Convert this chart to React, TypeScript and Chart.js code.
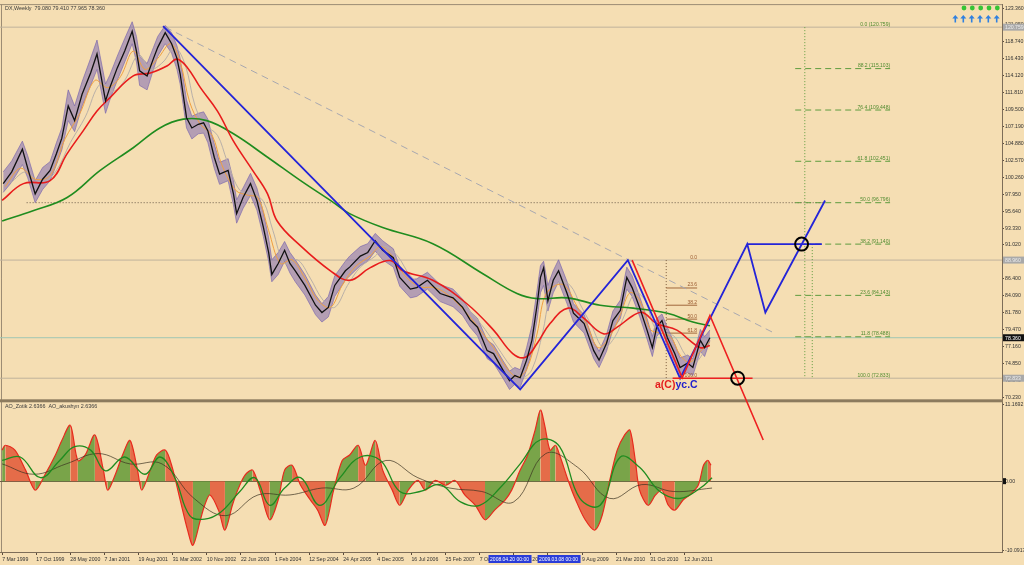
import React, { useEffect, useRef } from 'react';
import { Chart, registerables } from 'chart.js';

Chart.register(...registerables);

const FONT = "'Liberation Sans', 'DejaVu Sans', sans-serif";
const BG = '#f5deb3';

// x values are weeks counted from 7 Mar 1999 (weekly DX chart)
const dateTickWeeks = [0, 32, 64, 96, 128, 160, 192, 224, 256, 288, 320, 352, 384, 416, 448, 480, 512, 544, 576, 608, 640];
const dateTickLabels = ['7 Mar 1999', '17 Oct 1999', '28 May 2000', '7 Jan 2001', '19 Aug 2001', '31 Mar 2002', '10 Nov 2002', '22 Jun 2003', '1 Feb 2004', '12 Sep 2004', '24 Apr 2005', '4 Dec 2005', '16 Jul 2006', '25 Feb 2007', '7 Oct 2007', '18 May 2008', '28 Dec 2008', '9 Aug 2009', '21 Mar 2010', '31 Oct 2010', '12 Jun 2011'];
const markedWeeks = [476, 522];
const markedLabels = ['2008.04.20 00:00', '2009.03.08 00:00'];

const priceTicks = [123.36, 121.05, 118.74, 116.43, 114.12, 111.81, 109.5, 107.19, 104.88, 102.57, 100.26, 97.95, 95.64, 93.33, 91.02, 88.71, 86.4, 84.09, 81.78, 79.47, 77.16, 74.85, 72.54, 70.23];
const aoTicks = [11.1692, 0, -10.0917];
const aoTickLabels = ['11.1692', '0.00', '-10.0917'];

// price bars (sampled)
const closeWeek = [1,9,19,24,31,38,45,51,56,62,68,75,83,89,97,101,108,115,122,126,129,136,142,146,153,159,164,167,173,178,184,189,193,199,204,212,217,220,226,233,239,245,250,253,259,265,270,275,284,294,300,306,312,322,326,336,343,350,357,367,373,383,389,399,411,423,432,439,446,455,461,470,476,481,486,492,497,502,505,508,512,517,522,530,536,546,555,560,567,573,580,586,591,598,605,610,614,619,624,631,636,643,648,655,659,664];
const closeValue = [99.4,101.0,104.1,101.5,98.0,100.0,101.2,103.5,105.6,110.0,108.0,111.6,114.5,117.1,110.7,112.5,115.2,117.5,120.2,117.5,114.8,114.1,116.5,118.0,120.0,118.5,116.5,114.4,108.4,107.0,107.5,107.7,106.6,103.0,100.7,101.2,98.0,95.3,97.5,99.4,97.1,93.5,90.0,87.0,88.5,90.3,88.5,87.5,85.5,82.8,81.8,82.5,85.5,87.5,88.0,89.5,90.0,91.6,90.3,89.3,86.6,85.0,85.2,86.2,84.4,83.8,82.5,80.8,79.8,76.6,76.2,73.9,72.5,73.2,72.9,75.3,78.0,83.0,86.6,87.9,83.4,86.2,87.5,84.4,81.7,80.3,76.6,75.3,77.6,80.7,82.1,86.6,85.2,82.5,79.4,77.0,79.8,80.7,78.4,76.2,74.3,74.9,74.3,78.0,77.0,78.36];
const highValue = [101.0,102.5,105.2,103.2,99.8,101.6,102.4,105.0,107.0,112.2,110.0,113.3,116.5,119.0,113.0,114.2,116.8,119.2,121.5,119.5,116.8,115.8,118.0,119.5,121.0,120.0,118.2,116.5,110.8,108.6,109.0,109.2,108.2,104.8,102.3,102.8,99.8,97.2,98.8,100.8,98.8,95.5,92.0,89.0,90.0,91.5,90.0,89.0,87.0,84.2,83.0,84.0,86.8,88.8,89.5,90.8,91.2,92.6,91.6,90.5,88.0,86.3,86.4,87.3,85.6,85.0,83.6,82.0,81.0,78.0,77.4,75.2,73.8,74.3,74.0,77.0,80.0,85.0,88.2,88.8,85.5,87.5,89.0,86.0,83.0,81.5,77.8,76.5,78.8,82.0,83.5,88.0,86.8,84.0,81.0,78.5,81.0,81.6,79.8,77.5,75.6,76.0,75.5,79.5,78.5,79.41];
const lowValue = [98.2,99.6,102.0,100.2,96.8,98.6,99.8,102.0,104.0,108.0,106.5,110.0,112.8,115.0,109.0,110.8,113.5,116.0,118.5,116.0,112.8,112.2,115.0,116.8,118.5,117.2,115.0,113.0,107.0,105.5,106.2,106.3,105.0,101.5,99.3,99.8,96.5,94.0,96.0,97.8,95.8,92.2,88.8,86.0,87.0,88.8,87.2,86.0,84.2,81.5,80.5,81.2,84.0,86.2,86.8,88.2,88.8,90.2,89.0,88.0,85.4,83.8,84.0,85.0,83.3,82.6,81.4,79.8,78.6,75.5,74.9,72.8,71.3,72.0,71.6,74.0,76.5,81.0,84.5,85.5,82.0,84.5,86.0,83.0,80.5,79.0,75.5,74.3,76.5,79.5,81.0,85.0,84.0,81.3,78.2,75.8,78.5,79.5,77.2,75.0,73.2,73.6,73.2,76.5,75.8,77.97];

// moving averages
const redMaWeek = [0,20,45,61,76,89,101,123,139,155,164,174,186,202,217,235,249,258,280,308,326,345,364,376,404,436,461,479,491,502,514,531,545,564,577,592,601,614,633,645,655,664];
const redMaValue = [97.1,99.4,99.8,103.5,106.6,109.3,111.1,114.1,114.5,115.5,116.4,115.2,112.5,109.3,105.2,101.2,98.0,94.3,90.9,87.5,86.2,87.9,88.9,87.5,86.2,83.0,79.4,76.2,75.7,77.6,80.3,82.4,81.1,78.9,79.8,81.4,81.8,80.3,79.4,78.0,77.0,77.3];
const greenMaWeek = [0,29,61,92,123,148,170,192,217,249,280,311,326,357,404,451,483,502,530,561,592,624,648,664];
const greenMaValue = [94.3,95.7,97.5,101.2,104.3,107.0,108.2,108.0,106.2,103.0,99.8,96.8,95.3,93.4,91.2,87.1,84.4,83.7,83.8,82.8,82.4,81.7,80.5,80.0];
const orangeMaWeek = [3,17,31,45,59,73,87,99,111,123,134,146,158,167,176,186,197,206,219,231,240,250,261,272,284,296,308,319,331,345,355,366,378,392,406,420,434,448,461,472,483,492,502,509,519,528,538,549,559,570,580,589,598,608,617,627,636,645,655,664];
const orangeMaValue = [99,101.5,100.0,100.5,105.5,109.0,113.5,112.5,114.0,117.5,115.0,116.5,118.5,116.0,110.5,107.5,106.0,102.0,98.5,97.8,97.5,93.0,88.5,89.0,86.5,83.5,82.5,85.5,88.0,89.5,90.8,89.5,86.8,85.3,85.2,84.0,82.0,79.5,77.0,74.5,73.0,74.0,79.0,84.0,85.5,85.5,83.0,80.0,77.0,78.5,81.5,84.5,83.5,79.5,79.0,78.5,76.0,75.0,76.5,77.8];
const greyMaWeek = [8,22,36,50,64,78,92,104,115,128,139,151,162,172,181,190,202,211,223,235,245,254,265,277,289,301,312,324,336,350,359,371,383,397,411,425,439,453,465,477,488,497,507,514,523,533,542,553,564,575,584,594,603,613,622,631,641,650,659];
const greyMaValue = [99.5,101.0,99.5,101.0,105.0,108.5,113.0,112.0,113.5,117.0,115.0,116.0,118.0,115.5,110.0,107.5,106.0,102.5,98.5,98.0,97.0,93.0,88.5,89.0,86.5,83.5,82.5,85.5,88.0,89.5,90.8,89.5,86.8,85.3,85.2,84.0,82.0,79.5,77.0,74.5,73.0,74.0,79.0,84.0,86.0,85.5,83.0,80.0,77.0,78.5,81.5,84.5,83.5,79.5,79.0,78.5,76.0,75.0,76.5];

// wave drawings
const blueWaveWeek = [151, 486, 587, 636, 699, 716, 772];
const blueWaveValue = [120.9, 71.3, 88.96, 72.8, 91.14, 81.8, 97.1];
const blueFlatWeek = [699, 769];
const blueFlatValue = [91.14, 91.14];
const redWaveWeek = [591, 638, 664, 714];
const redWaveValue = [88.96, 72.9, 81.4, 64.4];
const redFlatWeek = [629, 704];
const redFlatValue = [72.833, 72.833];
const circleWeek = [690, 750];
const circleValue = [72.833, 91.14];
const trendWeek = [153, 725];
const trendValue = [120.759, 78.95];
const dottedWeek = [23, 772];
const dottedValue = [96.796, 96.796];

// horizontal price lines
const greyLevels = [120.759, 88.96, 72.833];
const bidLevel = 78.36;

// Fibonacci expansion (right)
const fibLevels = [0.0, 88.2, 76.4, 61.8, 50.0, 38.2, 23.6, 11.8, 100.0];
const fibPrices = [120.759, 115.103, 109.448, 102.451, 96.796, 91.140, 84.143, 78.488, 72.833];
const fibStartWeek = 744;
const fibEndWeek = 833;
const fibVertWeeks = [753, 760];
const fibVertTops = [120.759, 91.14];

// small Fibonacci retracement
const miniFibLevels = [0.0, 23.6, 38.2, 50.0, 61.8, 100.0];
const miniFibPrices = [88.96, 85.15, 82.80, 80.90, 78.99, 72.833];
const miniFibStartWeek = 623;
const miniFibEndWeek = 652;

// AO indicator
const aoWeek = [0,3,12,22,31,40,50,56,64,71,78,87,95,99,106,113,120,127,131,139,145,153,159,167,174,179,186,190,195,203,209,216,221,228,235,242,251,259,265,272,280,289,296,303,311,319,326,334,341,350,357,366,373,381,390,397,406,416,425,434,444,453,462,472,478,486,493,500,505,509,514,519,523,531,538,547,556,563,570,577,584,589,594,598,606,613,619,625,631,639,645,653,658,662,665];
const aoValue = [4.5,5.2,4.5,1.6,-1.3,0.9,3.8,5.9,8.1,3.0,3.8,6.7,1.6,-1.3,0.9,3.8,5.9,1.6,-1.3,1.6,3.8,4.5,2.3,-2.7,-7.1,-9.3,-5.6,-3.5,-2.0,-4.2,-7.1,-3.5,-1.3,0.9,1.6,-1.3,-5.6,-2.7,1.6,2.3,-0.6,-2.7,-4.2,-6.4,-1.3,3.0,3.8,5.2,2.3,5.9,1.6,-1.3,-3.5,-1.3,0.1,-1.3,0.1,-0.6,0.1,-2.0,-3.5,-5.6,-4.2,-2.7,-1.3,1.6,3.8,7.4,10.3,8.1,4.5,5.2,3.8,0.1,-2.7,-5.6,-7.1,-4.9,0.1,4.5,6.7,7.4,3.0,-1.3,-3.5,-2.0,-1.3,-3.5,-4.2,-2.7,-2.0,-0.6,2.3,3.0,2.3];
const aoSignalWeek = [0,17,36,54,68,83,97,115,134,148,162,176,190,205,223,237,251,265,280,298,317,336,355,373,392,411,430,448,467,486,505,523,542,561,580,598,617,636,655,666];
const aoSignalValue = [3.0,3.5,0.5,3.0,5.0,4.5,1.5,3.5,1.0,3.5,0.5,-5.0,-5.5,-4.5,-1.5,0.5,-3.5,-1.0,0.5,-3.5,0.5,3.5,3.0,-1.5,-1.5,-0.5,-3.0,-3.5,-1.0,2.5,6.0,5.0,-2.5,-3.5,3.5,2.0,-1.5,-2.5,-1.0,0.5];
const aoSlowWeek = [0,30,60,90,120,150,180,210,240,270,300,330,360,390,420,450,480,510,540,570,600,630,666];
const aoSlowValue = [2.5,1.0,2.5,4.0,2.5,2.5,-2.5,-5.0,-2.0,-2.0,-1.0,-1.0,3.0,0.5,-1.0,-1.5,-3.0,4.0,2.0,-2.5,-0.5,-1.5,-1.0];

const pts = (xs: number[], ys: number[]) => xs.map((x, i) => ({ x, y: ys[i] }));

const line = (data: any[], color: string, width: number, order: number, extra: any = {}) => ({
  type: 'line',
  data,
  borderColor: color,
  backgroundColor: color,
  borderWidth: width,
  pointRadius: 0,
  pointHoverRadius: 0,
  fill: false,
  tension: 0,
  order,
  yAxisID: 'y',
  ...extra,
});

const decorPlugin = {
  id: 'decor',
  beforeDraw(chart: any) {
    const { ctx, width, height } = chart;
    ctx.save();
    ctx.fillStyle = BG;
    ctx.fillRect(0, 0, width, height);
    ctx.restore();
  },
  beforeDatasetsDraw(chart: any) {
    const { ctx, chartArea, scales } = chart;
    ctx.save();
    ctx.strokeStyle = '#9c8c74';
    ctx.lineWidth = 1;
    ctx.beginPath();
    ctx.moveTo(chartArea.left + 1.5, chartArea.top);
    ctx.lineTo(chartArea.left + 1.5, chartArea.bottom);
    ctx.moveTo(chartArea.left, chartArea.top + 0.5);
    ctx.lineTo(chartArea.right, chartArea.top + 0.5);
    ctx.stroke();
    const sep = scales.y.bottom;
    ctx.fillStyle = '#8c7b5e';
    ctx.fillRect(0, sep - 1, chartArea.right + 1, 3);
    // AO zero line
    const z = Math.round(scales.yAO.getPixelForValue(0)) + 0.5;
    ctx.strokeStyle = '#6e6048';
    ctx.beginPath();
    ctx.moveTo(chartArea.left, z);
    ctx.lineTo(chartArea.right, z);
    ctx.stroke();
    ctx.restore();
  },
  afterDraw(chart: any) {
    const { ctx, chartArea, scales } = chart;
    const x = scales.x;
    const y = scales.y;
    const ya = scales.yAO;
    ctx.save();
    ctx.textBaseline = 'alphabetic';
    // headers
    ctx.font = `5.4px ${FONT}`;
    ctx.fillStyle = '#3a3a3a';
    ctx.textAlign = 'left';
    ctx.fillText('DX,Weekly  79.080 79.410 77.965 78.360', 5, 10);
    ctx.fillText('AO_Zotik 2.6366  AO_akushyn 2.6366', 5, ya.top + 8);

    // Fibonacci expansion labels
    ctx.font = `5px ${FONT}`;
    ctx.fillStyle = '#4f8a2f';
    ctx.textAlign = 'right';
    const fx = x.getPixelForValue(fibEndWeek);
    fibLevels.forEach((lv, i) => {
      ctx.fillText(`${lv.toFixed(1)} (${fibPrices[i].toFixed(3)})`, fx, y.getPixelForValue(fibPrices[i]) - 1.5);
    });
    // small fib labels
    ctx.fillStyle = '#9a5a30';
    const mx = x.getPixelForValue(miniFibEndWeek);
    miniFibLevels.forEach((lv, i) => {
      ctx.fillText(lv.toFixed(1), mx, y.getPixelForValue(miniFibPrices[i]) - 1.5);
    });

    // wave label
    ctx.font = `bold 10.5px ${FONT}`;
    ctx.textAlign = 'left';
    const lx = x.getPixelForValue(612.5);
    const ly = y.getPixelForValue(71.45);
    ctx.fillStyle = '#e41e1e';
    ctx.fillText('a(C)', lx, ly);
    const w1 = ctx.measureText('a(C)').width;
    ctx.fillStyle = '#2222cc';
    ctx.fillText('yc.C', lx + w1, ly);

    // right axis price boxes
    ctx.font = `5.2px ${FONT}`;
    ctx.textAlign = 'left';
    const ax = chartArea.right + 1;
    greyLevels.forEach((p) => {
      const py = y.getPixelForValue(p);
      ctx.fillStyle = '#a9a9a9';
      ctx.fillRect(ax, py - 3.5, 22, 7);
      ctx.fillStyle = '#ececec';
      ctx.fillText(p.toFixed(3), ax + 2, py + 2);
    });
    const by = y.getPixelForValue(bidLevel);
    ctx.fillStyle = '#111111';
    ctx.fillRect(ax, by - 3.5, 22, 7);
    ctx.fillStyle = '#ffffff';
    ctx.fillText(bidLevel.toFixed(3), ax + 2, by + 2);
    const zy = ya.getPixelForValue(0);
    ctx.fillStyle = '#111111';
    ctx.fillRect(ax, zy - 3, 3, 6);

    // marked dates on time axis
    ctx.font = `5px ${FONT}`;
    ctx.textAlign = 'center';
    markedWeeks.forEach((wk, i) => {
      const px = x.getPixelForValue(wk);
      ctx.fillStyle = '#2a3cd8';
      ctx.fillRect(px - 21, chartArea.bottom + 3, 43, 8);
      ctx.fillStyle = '#ffffff';
      ctx.fillText(markedLabels[i], px, chartArea.bottom + 9);
    });

    // status icons top-right
    const dotX = [964, 972.3, 980.7, 989, 997.3];
    ctx.fillStyle = '#35c435';
    dotX.forEach((dx) => { ctx.beginPath(); ctx.arc(dx, 8, 2.4, 0, Math.PI * 2); ctx.fill(); });
    const arrX = [955.3, 963.3, 971.7, 980, 988.3, 996.7];
    ctx.fillStyle = '#2f80e0';
    ctx.strokeStyle = '#2f80e0';
    ctx.lineWidth = 1.6;
    arrX.forEach((axp) => {
      ctx.beginPath();
      ctx.moveTo(axp, 15);
      ctx.lineTo(axp - 3, 18.5);
      ctx.lineTo(axp + 3, 18.5);
      ctx.closePath();
      ctx.fill();
      ctx.beginPath();
      ctx.moveTo(axp, 18);
      ctx.lineTo(axp, 22.5);
      ctx.stroke();
    });
    ctx.restore();
  },
};

export default function App() {
  const ref = useRef<HTMLCanvasElement | null>(null);
  useEffect(() => {
    document.body.style.margin = '0';
    const canvas = ref.current!;
    const datasets: any[] = [
      // full-width horizontal lines
      ...greyLevels.map((p) => line(pts([-2, 938], [p, p]), '#bfb29c', 1, 30)),
      line(pts([-2, 938], [bidLevel, bidLevel]), '#9fc6b4', 1, 30),
      line(pts(dottedWeek, dottedValue), '#6b5b48', 1, 29, { borderDash: [1, 2] }),
      // fib expansion dashes
      ...fibPrices.slice(1, 8).map((p) => line(pts([fibStartWeek, fibEndWeek], [p, p]), '#5e9c3e', 1, 28, { borderDash: [6, 4] })),
      ...fibVertWeeks.map((wk, i) => line(pts([wk, wk], [fibVertTops[i], 72.833]), '#5e9c3e', 1, 28, { borderDash: [1, 2] })),
      // mini fib
      ...miniFibPrices.slice(1, 5).map((p) => line(pts([miniFibStartWeek, miniFibEndWeek], [p, p]), '#a0683c', 1, 27)),
      line(pts([miniFibStartWeek, miniFibStartWeek], [miniFibPrices[0], miniFibPrices[5]]), '#7a5a3c', 1, 27, { borderDash: [1, 2] }),
      // price band
      line(pts(closeWeek, highValue), 'rgba(118,98,172,0.8)', 0.8, 20, { fill: '+1', backgroundColor: 'rgba(125,105,178,0.55)' }),
      line(pts(closeWeek, lowValue), 'rgba(118,98,172,0.8)', 0.8, 20),
      line(pts(greyMaWeek, greyMaValue), '#b9b0a8', 1, 19, { tension: 0.35 }),
      line(pts(orangeMaWeek, orangeMaValue), '#f0a040', 1, 18, { tension: 0.35 }),
      line(pts(greenMaWeek, greenMaValue), '#1f8c1f', 1.6, 17, { tension: 0.4 }),
      line(pts(redMaWeek, redMaValue), '#e81c1c', 1.6, 16, { tension: 0.4 }),
      line(pts(closeWeek, closeValue), '#111111', 1.3, 15),
      // drawings
      line(pts(trendWeek, trendValue), '#a8a8b0', 1, 10, { borderDash: [7, 5] }),
      line(pts(blueWaveWeek, blueWaveValue), '#2424d8', 1.8, 6),
      line(pts(blueFlatWeek, blueFlatValue), '#2424d8', 1.8, 6),
      line(pts(redWaveWeek, redWaveValue), '#ee2020', 1.6, 5, { clip: false }),
      line(pts(redFlatWeek, redFlatValue), '#ee2020', 1.6, 5),
      line(pts(circleWeek, circleValue), '#000000', 2, 1, { showLine: false, pointRadius: 6.5, pointBorderWidth: 2, pointBackgroundColor: 'rgba(0,0,0,0)', pointBorderColor: '#000000' }),
      // AO panel
      line(pts(aoWeek, aoValue), '#e82a1e', 1.2, 8, {
        yAxisID: 'yAO',
        tension: 0.3,
        fill: { value: 0 },
        backgroundColor: 'rgba(110,155,60,0.85)',
        segment: {
          backgroundColor: (c: any) => (c.p1.parsed.y >= c.p0.parsed.y ? 'rgba(104,156,58,0.88)' : 'rgba(226,92,58,0.88)'),
        },
      }),
      line(pts(aoSignalWeek, aoSignalValue), '#1f8c1f', 1.3, 3, { yAxisID: 'yAO', tension: 0.4 }),
      line(pts(aoSlowWeek, aoSlowValue), '#3a3020', 0.7, 4, { yAxisID: 'yAO', tension: 0.4 }),
    ];

    const tickFont = { size: 5.2, family: FONT };
    const chart = new Chart(canvas, {
      type: 'line',
      data: { datasets },
      plugins: [decorPlugin],
      options: {
        animation: false,
        responsive: false,
        maintainAspectRatio: false,
        events: [],
        layout: { padding: { top: 3, left: 0, right: 0, bottom: 0 }, autoPadding: false },
        plugins: { legend: { display: false }, tooltip: { enabled: false } },
        scales: {
          x: {
            type: 'linear',
            position: 'bottom',
            min: -2,
            max: 938,
            afterBuildTicks: (s: any) => { s.ticks = dateTickWeeks.map((v) => ({ value: v })); },
            afterFit: (s: any) => { s.height = 13; },
            ticks: {
              autoSkip: false,
              maxRotation: 0,
              align: 'start',
              padding: 1,
              color: '#333333',
              font: tickFont,
              callback: (v: any) => dateTickLabels[dateTickWeeks.indexOf(v)] ?? '',
            },
            grid: { drawOnChartArea: false, drawTicks: true, tickLength: 3, color: '#5a4a3a' },
            border: { display: true, color: '#7d6d58' },
          },
          y: {
            type: 'linear',
            position: 'right',
            stack: 'panes',
            stackWeight: 397,
            min: 69.817,
            max: 123.905,
            afterBuildTicks: (s: any) => { s.ticks = priceTicks.map((v) => ({ value: v })); },
            afterFit: (s: any) => { s.width = 22; },
            ticks: { autoSkip: false, padding: 1, color: '#333333', font: tickFont, callback: (v: any) => Number(v).toFixed(3) },
            grid: { drawOnChartArea: false, drawTicks: true, tickLength: 2, color: '#5a4a3a' },
            border: { display: true, color: '#7d6d58' },
          },
          yAO: {
            type: 'linear',
            position: 'right',
            stack: 'panes',
            stackWeight: 152,
            min: -10.27,
            max: 11.72,
            afterBuildTicks: (s: any) => { s.ticks = aoTicks.map((v) => ({ value: v })); },
            afterFit: (s: any) => { s.width = 22; },
            ticks: { autoSkip: false, padding: 1, color: '#333333', font: tickFont, callback: (v: any) => aoTickLabels[aoTicks.indexOf(v)] ?? '' },
            grid: { drawOnChartArea: false, drawTicks: true, tickLength: 2, color: '#5a4a3a' },
            border: { display: true, color: '#7d6d58' },
          },
        },
      } as any,
    } as any);
    return () => chart.destroy();
  }, []);
  return (
    <div style={{ position: 'fixed', left: 0, top: 0, width: 1024, height: 565 }}>
      <canvas ref={ref} width={1024} height={565} style={{ display: 'block', width: 1024, height: 565 }} />
    </div>
  );
}
